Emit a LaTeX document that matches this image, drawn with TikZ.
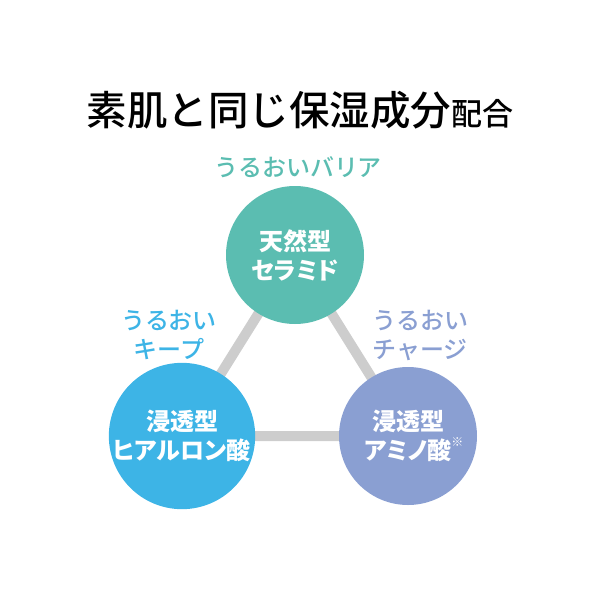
\documentclass[tikz,border=0pt]{standalone}
\usepackage{fontspec}
\newfontfamily\jpfont{Noto Sans CJK JP Medium}
\newfontfamily\jptitle{Noto Sans CJK JP Medium}
\newfontfamily\jpfontp{Noto Sans CJK JP}[RawFeature=+palt]
\usetikzlibrary{backgrounds}

\definecolor{teal1}{HTML}{5BBDB1}
\definecolor{sky1}{HTML}{3DB4E6}
\definecolor{lav1}{HTML}{8A9FD2}
\definecolor{grey1}{HTML}{CDCDCD}

\begin{document}
\begin{tikzpicture}[x=1pt, y=-1pt]
    \tikzset{
        ingredient/.style={circle, minimum size=138pt, inner sep=0pt, text=white, align=center,
            font=\jpfontp\bfseries\fontsize{24}{29}\selectfont},
        benefit/.style={align=center, font=\jpfont\fontsize{24}{29}\selectfont},
        link/.style={line width=10pt, grey1}
    }

    % Canvas
    \useasboundingbox (0,0) rectangle (598,598);

    % Constants
    \pgfmathsetmacro{\ytop}{255}
    \pgfmathsetmacro{\ybot}{436}

    % Title
    \node (title) at (300,110) {\jptitle\fontsize{40.5}{42}\selectfont 素肌と同じ保湿成分{\fontsize{31}{32}\selectfont 配合}};

    % Ingredients
    \node [ingredient, fill=teal1] (ceramide) at (295,\ytop) {天然型\\セラミド};
    \node [ingredient, fill=sky1] (hyaluron) at (182,\ybot) {浸透型\\ヒアルロン酸};
    \node [ingredient, fill=lav1] (amino) at (408,\ybot) {浸透型\\アミノ酸\rlap{\raisebox{0.55em}{\fontsize{12}{12}\selectfont ※}}};

    % Links
    \begin{pgfonlayer}{background}
        \draw [link] (ceramide.center) -- (hyaluron.center) -- (amino.center) -- cycle;
    \end{pgfonlayer}

    % Benefits
    \node [benefit, text=teal1] (barrier) at (298,167) {うるおいバリア};
    \node [benefit, text=sky1] (keep) at (169,335) {うるおい\\キープ};
    \node [benefit, text=lav1] (charge) at (420,335) {うるおい\\チャージ};

\end{tikzpicture}
\end{document}
